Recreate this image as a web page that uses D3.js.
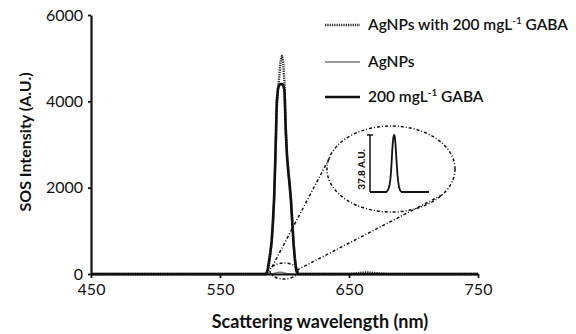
<!DOCTYPE html>
<html>
<head>
<meta charset="utf-8">
<script src="https://cdn.jsdelivr.net/npm/d3@7"></script>
<style>
  html, body { margin: 0; padding: 0; background: #fff; }
  svg { display: block; font-family: Lato, "Open Sans", sans-serif; }
</style>
</head>
<body>
<svg id="chart" width="576" height="334"></svg>
<script>
// Scattering wavelengths (nm) sampled for every series
const wavelengths = [450, 475, 500, 525, 550, 560, 570, 580, 584, 585, 586, 587, 588, 589, 590,
  591, 592, 593, 594, 595, 596, 597, 598, 599, 600, 601, 602, 603, 604, 605, 606, 607, 608,
  609, 610, 612, 615, 620, 630, 640, 650, 655, 660, 665, 670, 680, 700, 725, 750];

// SOS intensity (A.U.) for each series
const withGaba = [0, 0, 0, 0, 0, 0, 0, 0, 0, 0, 0, 50, 200, 450, 700,
  1100, 1700, 2700, 3800, 4300, 4600, 4950, 5050, 4900, 4400, 3400, 2750, 2400, 2100, 1750, 1250, 750, 400,
  120, 0, 0, 0, 0, 0, 0, 0, 10, 30, 35, 20, 0, 0, 0, 0];
const agnps = [0, 0, 0, 0, 0, 0, 0, 0, 0, 0, 0.5, 1, 2, 3, 5,
  8, 13, 20, 28, 34, 37, 37.8, 36, 31, 24, 17, 11, 7, 4, 2, 1, 0.5, 0,
  0, 0, 0, 0, 0, 0, 0, 0, 0, 0, 0, 0, 0, 0, 0, 0];
const gaba = [0, 0, 0, 0, 0, 0, 0, 0, 0, 0, 10, 100, 300, 500, 750,
  1200, 1800, 2800, 4000, 4300, 4380, 4400, 4400, 4380, 4250, 3300, 2700, 2350, 2050, 1700, 1200, 700, 350,
  100, 0, 0, 0, 0, 0, 0, 0, 0, 0, 0, 0, 0, 0, 0, 0];

const xTicks = [450, 550, 650, 750];
const yTicks = [0, 2000, 4000, 6000];
const insetPeak = 37.8;

const svg = d3.select("#chart");

const x = d3.scaleLinear().domain([450, 750]).range([91, 478]);
const y = d3.scaleLinear().domain([0, 6000]).range([274, 15]);

const series = [
  { values: withGaba, color: "#333", width: 2.4, dash: "1.3,1" },
  { values: agnps, color: "#777", width: 1.6, dash: null },
  { values: gaba, color: "#111", width: 2.6, dash: null }
];

const line = d3.line()
  .x((d, i) => x(wavelengths[i]))
  .y(d => y(d));

// Spectra
series.forEach(s => {
  svg.append("path")
    .datum(s.values)
    .attr("fill", "none")
    .attr("stroke", s.color)
    .attr("stroke-width", s.width)
    .attr("stroke-dasharray", s.dash)
    .attr("stroke-linejoin", "round")
    .attr("d", line);
});

// Axes
const xAxis = svg.append("g")
  .attr("transform", `translate(0,${y(0)})`)
  .call(d3.axisBottom(x).tickValues(xTicks).tickFormat(d3.format("d"))
    .tickSize(4).tickPadding(6).tickSizeOuter(0));
const yAxis = svg.append("g")
  .attr("transform", `translate(${x(450)},0)`)
  .call(d3.axisLeft(y).tickValues(yTicks).tickFormat(d3.format("d"))
    .tickSize(3).tickPadding(5).tickSizeOuter(0));

[xAxis, yAxis].forEach(g => {
  g.select(".domain").attr("stroke", "#111").attr("stroke-width", 2.2);
  g.selectAll(".tick line").attr("stroke", "#111").attr("stroke-width", 1.8);
  g.selectAll(".tick text")
    .attr("fill", "#111")
    .style("font-family", "Lato, sans-serif")
    .style("font-size", "16px");
});

// Axis titles
svg.append("text")
  .attr("x", 320).attr("y", 328)
  .attr("text-anchor", "middle")
  .style("font-weight", "bold").style("font-size", "18px")
  .attr("fill", "#111")
  .text("Scattering wavelength (nm)");

svg.append("text")
  .attr("transform", "translate(31,142) rotate(-90)")
  .attr("text-anchor", "middle")
  .style("font-weight", "bold").style("font-size", "16px")
  .attr("fill", "#111")
  .text("SOS Intensity (A.U.)");

// Legend
const legendRows = [
  { y: 25, name: "AgNPs with 200 mgL", sup: "-1", tail: " GABA", s: series[0] },
  { y: 62, name: "AgNPs", sup: null, tail: "", s: series[1] },
  { y: 97, name: "200 mgL", sup: "-1", tail: " GABA", s: series[2] }
];
legendRows.forEach(r => {
  svg.append("line")
    .attr("x1", 325).attr("x2", 360).attr("y1", r.y).attr("y2", r.y)
    .attr("stroke", r.s.color).attr("stroke-width", r.s.width)
    .attr("stroke-dasharray", r.s.dash);
  const t = svg.append("text")
    .attr("x", 368).attr("y", r.y + 5)
    .style("font-size", "15.5px").style("font-weight", "600")
    .attr("fill", "#111");
  t.append("tspan").text(r.name);
  if (r.sup) {
    t.append("tspan").attr("dy", -6).style("font-size", "10px").text(r.sup);
    t.append("tspan").attr("dy", 6).text(r.tail);
  }
});

// Zoom callout: small ellipse at the base, connectors and inset ellipse
const callout = svg.append("g")
  .attr("fill", "none").attr("stroke", "#111").attr("stroke-width", 1.5)
  .attr("stroke-dasharray", "3,2,1,2");
callout.append("ellipse").attr("cx", 284).attr("cy", 271).attr("rx", 14).attr("ry", 8);
callout.append("line").attr("x1", 272).attr("y1", 267).attr("x2", 330).attr("y2", 157);
callout.append("line").attr("x1", 297).attr("y1", 270).attr("x2", 442).attr("y2", 195);
callout.append("ellipse").attr("cx", 391).attr("cy", 169).attr("rx", 64).attr("ry", 43);

// Inset: AgNPs spectrum on its own scale
const xi = d3.scaleLinear().domain([560, 650]).range([370, 429]);
const yi = d3.scaleLinear().domain([0, insetPeak]).range([192, 135]);
const insetIdx = wavelengths.map((w, i) => i).filter(i => wavelengths[i] >= 560 && wavelengths[i] <= 650);
const insetLine = d3.line()
  .x(i => xi(wavelengths[i]))
  .y(i => yi(agnps[i]));
svg.append("path")
  .datum(insetIdx)
  .attr("fill", "none").attr("stroke", "#111").attr("stroke-width", 1.8)
  .attr("stroke-linejoin", "round")
  .attr("d", insetLine);

// Height bar for the AgNPs peak
svg.append("line")
  .attr("x1", xi(560)).attr("x2", xi(560)).attr("y1", yi(0)).attr("y2", yi(insetPeak))
  .attr("stroke", "#111").attr("stroke-width", 1.5);
svg.append("line")
  .attr("x1", xi(560) - 3).attr("x2", xi(560) + 3).attr("y1", yi(insetPeak)).attr("y2", yi(insetPeak))
  .attr("stroke", "#111").attr("stroke-width", 1.5);
svg.append("text")
  .attr("transform", `translate(${xi(560) - 5},${(yi(0) + yi(insetPeak)) / 2 + 6}) rotate(-90)`)
  .attr("text-anchor", "middle")
  .style("font-size", "10px").style("font-weight", "900")
  .attr("fill", "#111")
  .text(insetPeak + " A.U.");
</script>
</body>
</html>
